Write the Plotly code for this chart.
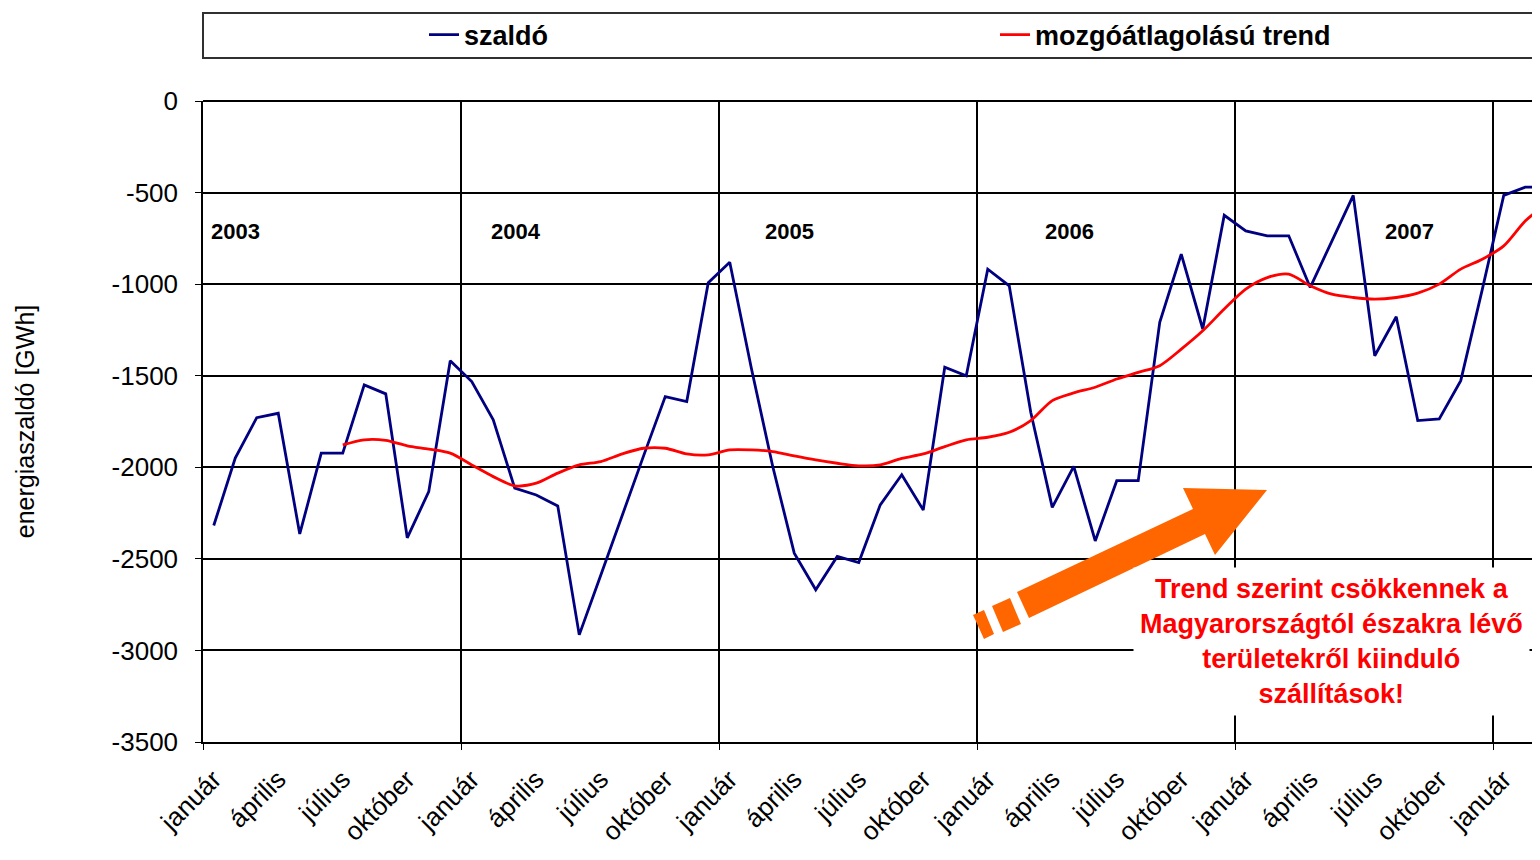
import plotly.graph_objects as go

# ---------------- data ----------------
years = ["2003", "2004", "2005", "2006", "2007"]
month_labels = ["január", "április", "július", "október"]

# monthly net energy balance (GWh), Jan 2003 ... Mar 2008
szaldo = [
    -2318, -1950, -1729, -1705, -2364, -1923, -1923, -1550, -1599, -2385, -2133, -1418,   # 2003
    -1532, -1741, -2114, -2151, -2211, -2915, -2590, -2260, -1935, -1614, -1641, -992,    # 2004
    -880, -1456, -1996, -2469, -2669, -2487, -2520, -2205, -2041, -2233, -1454, -1501,    # 2005
    -918, -1009, -1700, -2219, -1995, -2402, -2073, -2073, -1209, -836, -1245, -624,      # 2006
    -709, -736, -736, -1018, -765, -515, -1391, -1178, -1745, -1736, -1527, -1030,        # 2007
    -515, -470, -470,                                                                     # 2008
]

# moving-average trend (GWh), starts Jul 2003
trend = [None] * 6 + [
    -1878, -1850, -1853, -1883, -1901, -1923,                                              # 2003 H2
    -1987, -2051, -2101, -2087, -2032, -1987, -1969, -1927, -1896, -1896, -1927, -1932,    # 2004
    -1905, -1905, -1914, -1938, -1960, -1978, -1992, -1987, -1951, -1927, -1887, -1850,    # 2005
    -1836, -1809, -1745, -1636, -1594, -1563, -1518, -1482, -1445, -1355, -1255, -1136,    # 2006
    -1027, -964, -945, -1009, -1055, -1073, -1082, -1073, -1049, -1000, -918, -864,        # 2007
    -791, -655, -560,                                                                      # 2008
]

x = list(range(len(szaldo)))
tickvals = list(range(0, len(szaldo), 3))
ticktext = [month_labels[(v // 3) % 4] for v in tickvals]

# ---------------- figure ----------------
OFF = 8                      # page body margin of the html
W, H = 1540 - OFF, 860 - OFF
L, R, T = 203 - OFF, 0, 101 - OFF
B = H - (742 - OFF)
PW, PH = W - L - R, H - T - B


def px(xp, yp):
    """screen pixel position -> paper coordinates (decoration only)"""
    return (xp - OFF - L) / PW, (H - B - (yp - OFF)) / PH


fig = go.Figure()
fig.add_trace(go.Scatter(x=x, y=szaldo, mode="lines", name="szaldó",
                         line=dict(color="#000080", width=2.8)))
fig.add_trace(go.Scatter(x=x, y=trend, mode="lines", name="mozgóátlagolású trend",
                         line=dict(color="#FF0000", width=2.8, shape="spline", smoothing=0.8),
                         connectgaps=False))

# year labels
year_pos = [(0.99, years[0]), (14.06, years[1]), (26.8, years[2]), (39.8, years[3]), (55.6, years[4])]
for xv, txt in year_pos:
    fig.add_annotation(x=xv, y=-715, text=txt, showarrow=False, xref="x", yref="y",
                       font=dict(family="Liberation Sans Narrow, Arial Narrow, Liberation Sans, Arial",
                                 size=22, color="black", weight="bold"))

shapes = []
# legend box
x0, y0 = px(203, 58)
x1, y1 = px(1560, 13)
shapes.append(dict(type="rect", xref="paper", yref="paper", x0=x0, y0=y0, x1=x1, y1=y1,
                   line=dict(color="#303030", width=2), fillcolor="rgba(0,0,0,0)", layer="above"))


def poly(points):
    pts = [px(a, b) for a, b in points]
    return "M " + " L ".join(f"{p[0]:.5f},{p[1]:.5f}" for p in pts) + " Z"


orange = "#FF6600"
arrow_main = [(1017, 592), (1193, 509), (1183, 488), (1267, 490), (1215, 555), (1205, 534), (1029, 618)]
tail_a = [(992, 606), (1010, 598), (1021, 624), (1003, 632)]
tail_b = [(973, 615), (984, 610), (994, 634), (984, 639)]
for p in (arrow_main, tail_a, tail_b):
    shapes.append(dict(type="path", xref="paper", yref="paper", path=poly(p),
                       fillcolor=orange, line=dict(width=0), layer="above"))

fig.update_layout(shapes=shapes)

# callout text
fig.add_annotation(x=52.0, y=-2950, xref="x", yref="y", showarrow=False,
                   text="Trend szerint csökkennek a<br>Magyarországtól északra lévő<br>"
                        "területekről kiinduló<br>szállítások!",
                   align="center", bgcolor="white", borderpad=6,
                   font=dict(family="Liberation Sans, Arial", size=27, color="#FF0000", weight="bold"))

fig.update_layout(
    width=W, height=H,
    margin=dict(l=L, r=R, t=T, b=B, autoexpand=False),
    paper_bgcolor="white", plot_bgcolor="white",
    font=dict(family="Liberation Sans, Arial", color="black"),
    showlegend=True,
    legend=dict(orientation="h", x=px(424, 0)[0], xanchor="left", y=px(0, 35)[1], yanchor="middle",
                entrywidth=526, entrywidthmode="pixels", bgcolor="rgba(0,0,0,0)", borderwidth=0,
                font=dict(family="Liberation Sans, Arial", size=27, weight="bold", color="black"),
                itemwidth=30, tracegroupgap=0),
    xaxis=dict(range=[-0.5, (1540 - 203) / 21.5 - 0.5], tickmode="array", tickvals=tickvals, ticktext=ticktext,
               tickangle=-45, ticks="", showgrid=False, zeroline=False,
               showline=True, linecolor="black", linewidth=1.5,
               tickfont=dict(size=26, family="Liberation Sans, Arial", color="black"),
               ticklabelstandoff=10,
               minor=dict(tick0=-0.5, dtick=12, showgrid=True, gridcolor="black", gridwidth=1.5,
                          ticks="outside", ticklen=6, tickcolor="black")),
    yaxis=dict(range=[-3500, 0], tickmode="array", tickvals=[0, -500, -1000, -1500, -2000, -2500, -3000, -3500],
               ticktext=["0", "-500", "-1000", "-1500", "-2000", "-2500", "-3000", "-3500"],
               showgrid=True, gridcolor="black", gridwidth=1.5,
               zeroline=True, zerolinecolor="black", zerolinewidth=1.5,
               showline=True, linecolor="black", linewidth=1.5,
               ticks="outside", ticklen=6, tickcolor="black", ticklabelstandoff=12,
               tickfont=dict(size=26, family="Liberation Sans, Arial", color="black"),
               title=dict(text="energiaszaldó [GWh]", standoff=70,
                          font=dict(size=25, family="Liberation Sans, Arial", color="black"))),
)

fig.write_html("out.html")
